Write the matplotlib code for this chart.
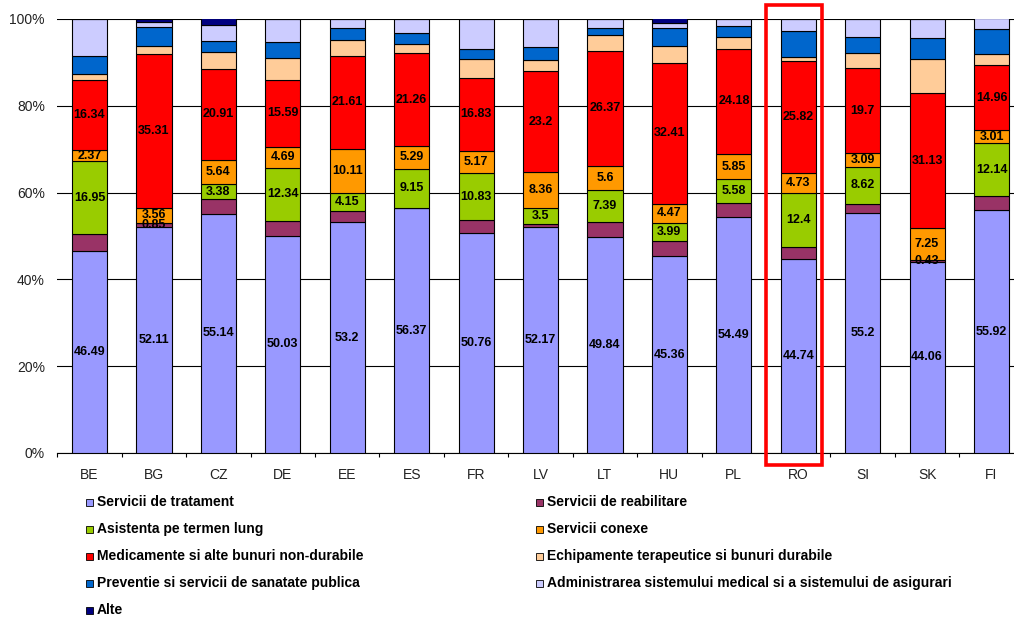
import numpy as np
import matplotlib
matplotlib.use('Agg')
import matplotlib.pyplot as plt
from matplotlib.patches import Rectangle

plt.rcParams['font.family'] = ['Liberation Sans', 'DejaVu Sans']

# structura cheltuielilor de sanatate pe functii (% din total)
tari = ['BE', 'BG', 'CZ', 'DE', 'EE', 'ES', 'FR', 'LV', 'LT', 'HU', 'PL', 'RO', 'SI', 'SK', 'FI']
tratament = [46.49, 52.11, 55.14, 50.03, 53.2, 56.37, 50.76, 52.17, 49.84, 45.36, 54.49, 44.74, 55.2, 44.06, 55.92]
reabilitare = [3.9, 0.85, 3.4, 3.4, 2.5, 0, 2.9, 0.7, 3.4, 3.6, 3.0, 2.7, 2.15, 0.43, 3.3]
termen_lung = [16.95, 0, 3.38, 12.34, 4.15, 9.15, 10.83, 3.5, 7.39, 3.99, 5.58, 12.4, 8.62, 0, 12.14]
conexe = [2.37, 3.56, 5.64, 4.69, 10.11, 5.29, 5.17, 8.36, 5.6, 4.47, 5.85, 4.73, 3.09, 7.25, 3.01]
medicamente = [16.34, 35.31, 20.91, 15.59, 21.61, 21.26, 16.83, 23.2, 26.37, 32.41, 24.18, 25.82, 19.7, 31.13, 14.96]
echipamente = [1.3, 1.9, 3.85, 4.9, 3.5, 2.1, 4.4, 2.7, 3.6, 3.9, 2.7, 0.9, 3.3, 8.0, 2.7]
preventie = [4.1, 4.4, 2.7, 3.85, 2.9, 2.5, 2.15, 2.9, 1.8, 4.25, 2.5, 5.9, 3.85, 4.75, 5.6]
administrare = [8.55, 1.2, 3.5, 5.2, 2.1, 3.3, 6.95, 6.4, 2.0, 1.0, 1.7, 2.8, 4.1, 4.4, 2.5]
alte = [0, 0.6, 1.6, 0, 0, 0, 0, 0, 0, 1.15, 0, 0, 0, 0, 0]

serii = [
    ('Servicii de tratament', tratament, '#9999FF'),
    ('Servicii de reabilitare', reabilitare, '#993366'),
    ('Asistenta pe termen lung', termen_lung, '#99CC00'),
    ('Servicii conexe', conexe, '#FF9900'),
    ('Medicamente si alte bunuri non-durabile', medicamente, '#FF0000'),
    ('Echipamente terapeutice si bunuri durabile', echipamente, '#FFCC99'),
    ('Preventie si servicii de sanatate publica', preventie, '#0066CC'),
    ('Administrarea sistemului medical si a sistemului de asigurari', administrare, '#CCCCFF'),
    ('Alte', alte, '#000080'),
]
# seriile cu etichete de valoare (indici in lista de mai sus)
serii_etichetate = [0, 2, 3, 4]
reab_etichetate = ['BG', 'SK']

W, H = 1014, 622
fig = plt.figure(figsize=(W / 100, H / 100), dpi=100)
ax = fig.add_axes([57.3 / W, 1 - 453 / H, (W - 57.3) / W, (453 - 19) / H])

x = np.arange(len(tari))
jos = np.zeros(len(tari))
for i, (nume, val, culoare) in enumerate(serii):
    val = np.array(val, dtype=float)
    ax.bar(x, val, 0.545, bottom=jos, color=culoare, edgecolor='black',
           linewidth=0.8, zorder=3)
    for k in range(len(tari)):
        if val[k] <= 0:
            continue
        if i in serii_etichetate or (i == 1 and tari[k] in reab_etichetate):
            ax.text(x[k], jos[k] + val[k] / 2, '{:g}'.format(val[k]),
                    ha='center', va='center', fontsize=9, fontweight='bold',
                    color='black', zorder=4)
    jos += val

ax.set_xlim(-0.5, (W - 57.3) / 64.43 - 0.5)
ax.set_ylim(0, 100)
ax.set_yticks(range(0, 101, 20))
ax.set_yticklabels(['{}%'.format(v) for v in range(0, 101, 20)], fontsize=10)
ax.yaxis.grid(True, color='black', linewidth=0.8, zorder=0)
ax.tick_params(axis='y', length=0, pad=9, labelcolor='#222222')
ax.set_xticks(x)
ax.set_xticklabels(tari, fontsize=10)
ax.set_xticks(np.arange(len(tari)) - 0.5, minor=True)
ax.tick_params(axis='x', which='major', length=0, pad=11, labelcolor='#222222')
ax.tick_params(axis='x', which='minor', length=3, width=0.8, direction='out')
for s in ['left', 'right', 'top']:
    ax.spines[s].set_visible(False)
ax.spines['bottom'].set_linewidth(0.8)

# cadrul rosu in jurul Romaniei
ro = tari.index('RO')
ax.add_patch(Rectangle((ro - 0.503, -2.65), 0.876, 105.85, fill=False,
                       edgecolor='red', linewidth=2.6, clip_on=False, zorder=5))

# legenda pe doua coloane
col_x = [86, 536]
rand_y = [502, 529, 556, 583, 610]
for i, (nume, val, culoare) in enumerate(serii):
    cx = col_x[i % 2]
    cy = rand_y[i // 2]
    fig.patches.append(Rectangle((cx / W, 1 - (cy + 3.5) / H), 7 / W, 7 / H,
                                 transform=fig.transFigure, facecolor=culoare,
                                 edgecolor='black', linewidth=0.6))
    fig.text((cx + 11) / W, 1 - cy / H, nume, ha='left', va='center',
             fontsize=10, fontweight='bold', color='black')

fig.savefig('out.png', dpi=100)
